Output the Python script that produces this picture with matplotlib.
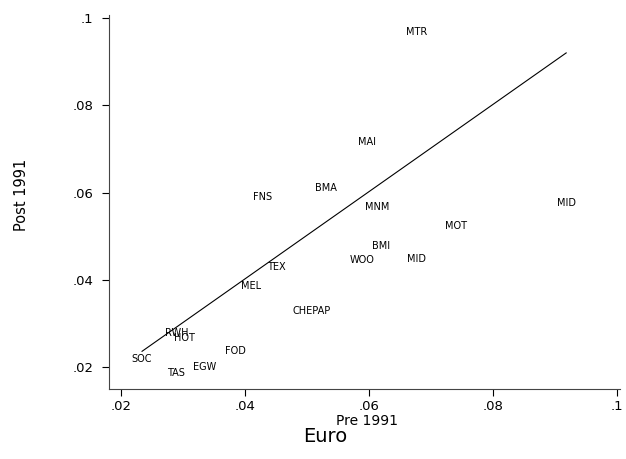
import matplotlib
matplotlib.use("Agg")
import matplotlib.pyplot as plt
import numpy as np

# Industry labels with pre-1991 (x) and post-1991 (y) values
labels = ["MTR", "MAI", "FNS", "BMA", "MNM", "MID", "MOT", "BMI", "WOO", "MID",
          "TEX", "MEL", "CHEPAP", "RWH", "HOT", "FOD", "SOC", "EGW", "TAS"]
pre_1991 = [0.0677, 0.0597, 0.0429, 0.0531, 0.0613, 0.0918, 0.0740, 0.0619, 0.0589, 0.0676,
            0.0450, 0.0410, 0.0508, 0.0290, 0.0302, 0.0384, 0.0234, 0.0335, 0.0289]
post_1991 = [0.0968, 0.0716, 0.0589, 0.0611, 0.0566, 0.0577, 0.0524, 0.0478, 0.0446, 0.0448,
             0.0430, 0.0386, 0.0328, 0.0278, 0.0266, 0.0237, 0.0218, 0.0200, 0.0186]

# fitted line parameters
fit_intercept = 0.0002
fit_slope = 1.0

xticks = [0.02, 0.04, 0.06, 0.08, 0.10]
xtick_labels = [".02", ".04", ".06", ".08", ".1"]
yticks = [0.02, 0.04, 0.06, 0.08, 0.10]
ytick_labels = [".02", ".04", ".06", ".08", ".1"]

W, H = 626, 459
fig = plt.figure(figsize=(W / 100, H / 100), dpi=100)
ax = fig.add_axes([109 / W, 1 - 389 / H, (620 - 109) / W, (389 - 15) / H])

for lab, x, y in zip(labels, pre_1991, post_1991):
    ax.text(x, y, lab, ha="center", va="center", fontsize=7, color="black")

xs = np.array([min(pre_1991), max(pre_1991)])
ax.plot(xs, fit_intercept + fit_slope * xs, color="black", lw=0.8)

ax.set_xlim(0.01807, 0.10048)
ax.set_ylim(0.01496, 0.10069)
ax.set_xticks(xticks)
ax.set_xticklabels(xtick_labels)
ax.set_yticks(yticks)
ax.set_yticklabels(ytick_labels)
ax.tick_params(direction="out", length=5, width=0.8, labelsize=9.5, pad=6, colors="black")
ax.tick_params(axis="x", pad=3)
for s in ["top", "right"]:
    ax.spines[s].set_visible(False)
for s in ["left", "bottom"]:
    ax.spines[s].set_linewidth(0.8)
    ax.spines[s].set_color("#444444")

fig.text(367 / W, 1 - 421 / H, "Pre 1991", ha="center", va="center", fontsize=10)
fig.text(22 / W, 1 - 195 / H, "Post 1991", ha="center", va="center", fontsize=10.5, rotation=90)
fig.text(325 / W, 1 - 436 / H, "Euro", ha="center", va="center", fontsize=14)

fig.savefig("out.png", dpi=100)
